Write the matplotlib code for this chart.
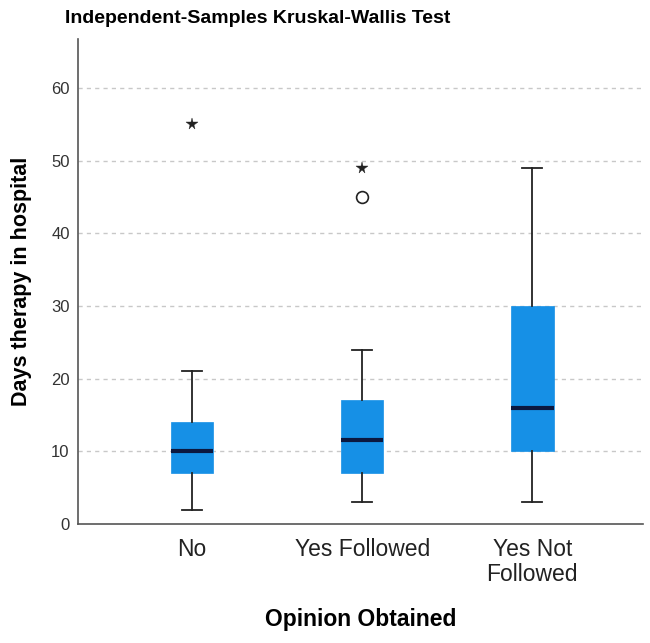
import matplotlib.pyplot as plt
import numpy as np

plt.rcParams['font.family'] = ['Liberation Sans', 'DejaVu Sans']

# === data ===
groups = ["No", "Yes Followed", "Yes Not\nFollowed"]
whislo = [2, 3, 3]
q1 = [7, 7, 10]
med = [10, 11.5, 16]
q3 = [14, 17, 30]
whishi = [21, 24, 49]
outliers = [[], [45], []]          # circles
extremes = [[55], [49], []]        # stars

positions = np.arange(1, len(groups) + 1)

stats = []
for i in range(len(groups)):
    stats.append(dict(whislo=whislo[i], q1=q1[i], med=med[i], q3=q3[i],
                      whishi=whishi[i], fliers=[], label=groups[i]))

fig = plt.figure(figsize=(6.5, 6.43), dpi=100)
ax = fig.add_axes([0.12, 0.185, 0.869, 0.754])

ax.bxp(stats, positions=positions, widths=0.25, capwidths=0.12,
       patch_artist=True, showfliers=False,
       boxprops=dict(facecolor='#1690E6', edgecolor='#1690E6', linewidth=0.5),
       medianprops=dict(color='#0B1840', linewidth=3),
       whiskerprops=dict(color='#222222', linewidth=1.3),
       capprops=dict(color='#222222', linewidth=1.3), zorder=3)

# outliers: circles, extremes: stars
for i, p in enumerate(positions):
    if outliers[i]:
        ax.plot([p] * len(outliers[i]), outliers[i], 'o', mfc='white', mec='#222222',
                ms=8.5, mew=1.2, zorder=4)
    if extremes[i]:
        ax.plot([p] * len(extremes[i]), extremes[i], '*', color='#222222',
                ms=8.5, mew=0.3, zorder=4)

ax.set_xlim(0.33, 3.65)
ax.set_ylim(0, 66.7)
ax.set_yticks(np.arange(0, 61, 10))
ax.set_xticks(positions)
ax.set_xticklabels(groups, fontsize=16.5, color='#222222', linespacing=1.1)
ax.tick_params(axis='both', length=0)
ax.tick_params(axis='y', labelsize=12, labelcolor='#333333', pad=6)
ax.tick_params(axis='x', pad=10)

for y in range(10, 61, 10):
    ax.axhline(y, color='#c8c8c8', linestyle=(0, (3, 3)), linewidth=1, zorder=1)

for s in ['top', 'right']:
    ax.spines[s].set_visible(False)
for s in ['left', 'bottom']:
    ax.spines[s].set_color('#555555')
    ax.spines[s].set_linewidth(1.2)

ax.set_ylabel("Days therapy in hospital", fontsize=15.5, fontweight='bold', labelpad=14)
ax.set_xlabel("Opinion Obtained", fontsize=16.5, fontweight='bold', labelpad=16)
fig.text(0.10, 0.972, "Independent-Samples Kruskal-Wallis Test", fontsize=14,
         fontweight='bold', va='center', ha='left')

fig.savefig("out.png", dpi=100)
